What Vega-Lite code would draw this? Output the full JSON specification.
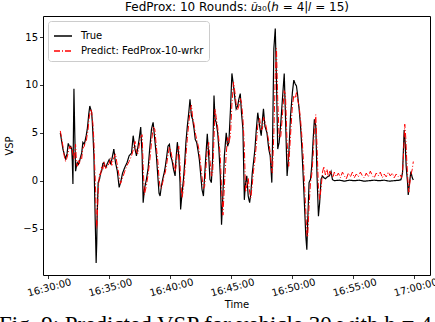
{
  "$schema": "https://vega.github.io/schema/vega-lite/v6.json",
  "width": 387,
  "height": 259,
  "autosize": "none",
  "padding": {"left": 43, "top": 16, "right": 5, "bottom": 47},
  "background": "white",
  "title": {
    "text": "Fig. 9: Predicted VSP for vehicle 30 with h = 4",
    "orient": "bottom",
    "anchor": "start",
    "frame": "group",
    "dx": -44,
    "offset": 4,
    "font": "Liberation Serif",
    "fontSize": 23,
    "fontWeight": "normal",
    "color": "black"
  },
  "config": {
    "view": {"stroke": "black", "strokeWidth": 1},
    "axis": {
      "grid": false,
      "domain": false,
      "labelFont": "DejaVu Sans",
      "labelFontSize": 10,
      "labelColor": "black",
      "tickColor": "black",
      "tickSize": 3.5,
      "tickWidth": 0.8,
      "titleFont": "DejaVu Sans",
      "titleFontSize": 10,
      "titleFontWeight": "normal",
      "titleColor": "black",
      "labelPadding": 2
    }
  },
  "data": {
    "format": {"parse": {"t": "date:'%H:%M:%S'"}},
    "values": [
      {"t":"16:31:02","v":5.0,"s":"T"},{"t":"16:31:08","v":4.2,"s":"T"},{"t":"16:31:15","v":3.3,"s":"T"},{"t":"16:31:21","v":2.8,"s":"T"},{"t":"16:31:28","v":2.3,"s":"T"},{"t":"16:31:35","v":2.8,"s":"T"},{"t":"16:31:41","v":3.9,"s":"T"},{"t":"16:31:48","v":3.5,"s":"T"},{"t":"16:31:53","v":3.6,"s":"T"},{"t":"16:31:58","v":3.3,"s":"T"},{"t":"16:32:01","v":2.0,"s":"T"},{"t":"16:32:04","v":-0.35,"s":"T"},{"t":"16:32:06","v":4.0,"s":"T"},{"t":"16:32:09","v":9.6,"s":"T"},{"t":"16:32:13","v":5.0,"s":"T"},{"t":"16:32:17","v":1.0,"s":"T"},{"t":"16:32:21","v":1.5,"s":"T"},{"t":"16:32:25","v":1.9,"s":"T"},{"t":"16:32:31","v":1.7,"s":"T"},{"t":"16:32:36","v":2.0,"s":"T"},{"t":"16:32:41","v":2.4,"s":"T"},{"t":"16:32:47","v":2.9,"s":"T"},{"t":"16:32:53","v":4.0,"s":"T"},{"t":"16:33:00","v":3.8,"s":"T"},{"t":"16:33:05","v":4.3,"s":"T"},{"t":"16:33:09","v":4.7,"s":"T"},{"t":"16:33:14","v":5.3,"s":"T"},{"t":"16:33:18","v":6.1,"s":"T"},{"t":"16:33:22","v":7.0,"s":"T"},{"t":"16:33:27","v":7.8,"s":"T"},{"t":"16:33:31","v":7.5,"s":"T"},{"t":"16:33:36","v":7.1,"s":"T"},{"t":"16:33:39","v":6.2,"s":"T"},{"t":"16:33:42","v":5.0,"s":"T"},{"t":"16:33:47","v":2.6,"s":"T"},{"t":"16:33:50","v":-0.5,"s":"T"},{"t":"16:33:53","v":-3.7,"s":"T"},{"t":"16:33:56","v":-6.5,"s":"T"},{"t":"16:33:58","v":-8.6,"s":"T"},{"t":"16:34:01","v":-6.5,"s":"T"},{"t":"16:34:03","v":-3.7,"s":"T"},{"t":"16:34:08","v":-0.2,"s":"T"},{"t":"16:34:15","v":0.2,"s":"T"},{"t":"16:34:20","v":0.8,"s":"T"},{"t":"16:34:25","v":1.0,"s":"T"},{"t":"16:34:31","v":1.8,"s":"T"},{"t":"16:34:36","v":1.9,"s":"T"},{"t":"16:34:41","v":1.5,"s":"T"},{"t":"16:34:46","v":1.4,"s":"T"},{"t":"16:34:53","v":1.8,"s":"T"},{"t":"16:35:02","v":2.2,"s":"T"},{"t":"16:35:09","v":1.8,"s":"T"},{"t":"16:35:15","v":2.2,"s":"T"},{"t":"16:35:25","v":3.3,"s":"T"},{"t":"16:35:33","v":1.9,"s":"T"},{"t":"16:35:42","v":1.0,"s":"T"},{"t":"16:35:51","v":-0.7,"s":"T"},{"t":"16:35:58","v":-0.2,"s":"T"},{"t":"16:36:08","v":0.8,"s":"T"},{"t":"16:36:19","v":1.4,"s":"T"},{"t":"16:36:30","v":1.9,"s":"T"},{"t":"16:36:40","v":2.6,"s":"T"},{"t":"16:36:52","v":2.9,"s":"T"},{"t":"16:37:00","v":4.7,"s":"T"},{"t":"16:37:09","v":3.3,"s":"T"},{"t":"16:37:16","v":2.6,"s":"T"},{"t":"16:37:23","v":3.5,"s":"T"},{"t":"16:37:29","v":4.3,"s":"T"},{"t":"16:37:37","v":5.6,"s":"T"},{"t":"16:37:44","v":2.6,"s":"T"},{"t":"16:37:49","v":-2.3,"s":"T"},{"t":"16:37:55","v":-0.9,"s":"T"},{"t":"16:38:05","v":0.15,"s":"T"},{"t":"16:38:13","v":1.2,"s":"T"},{"t":"16:38:21","v":3.3,"s":"T"},{"t":"16:38:30","v":5.4,"s":"T"},{"t":"16:38:38","v":6.1,"s":"T"},{"t":"16:38:46","v":4.3,"s":"T"},{"t":"16:38:54","v":2.6,"s":"T"},{"t":"16:39:02","v":0.15,"s":"T"},{"t":"16:39:07","v":-1.3,"s":"T"},{"t":"16:39:12","v":-1.6,"s":"T"},{"t":"16:39:19","v":-0.5,"s":"T"},{"t":"16:39:25","v":0.15,"s":"T"},{"t":"16:39:32","v":0.8,"s":"T"},{"t":"16:39:38","v":1.5,"s":"T"},{"t":"16:39:45","v":2.6,"s":"T"},{"t":"16:39:51","v":3.6,"s":"T"},{"t":"16:39:58","v":3.8,"s":"T"},{"t":"16:40:04","v":2.6,"s":"T"},{"t":"16:40:11","v":2.1,"s":"T"},{"t":"16:40:18","v":1.2,"s":"T"},{"t":"16:40:26","v":0.5,"s":"T"},{"t":"16:40:30","v":2.2,"s":"T"},{"t":"16:40:37","v":4.0,"s":"T"},{"t":"16:40:44","v":2.6,"s":"T"},{"t":"16:40:50","v":-0.2,"s":"T"},{"t":"16:40:53","v":-3.0,"s":"T"},{"t":"16:41:00","v":-1.3,"s":"T"},{"t":"16:41:07","v":0.15,"s":"T"},{"t":"16:41:13","v":1.9,"s":"T"},{"t":"16:41:19","v":4.0,"s":"T"},{"t":"16:41:26","v":5.7,"s":"T"},{"t":"16:41:33","v":7.1,"s":"T"},{"t":"16:41:39","v":8.5,"s":"T"},{"t":"16:41:46","v":6.8,"s":"T"},{"t":"16:41:52","v":6.4,"s":"T"},{"t":"16:41:59","v":5.4,"s":"T"},{"t":"16:42:05","v":4.3,"s":"T"},{"t":"16:42:12","v":4.0,"s":"T"},{"t":"16:42:18","v":3.2,"s":"T"},{"t":"16:42:25","v":2.2,"s":"T"},{"t":"16:42:31","v":0.8,"s":"T"},{"t":"16:42:38","v":-0.9,"s":"T"},{"t":"16:42:45","v":-1.6,"s":"T"},{"t":"16:42:51","v":0.5,"s":"T"},{"t":"16:42:57","v":2.6,"s":"T"},{"t":"16:43:04","v":4.9,"s":"T"},{"t":"16:43:11","v":2.6,"s":"T"},{"t":"16:43:17","v":0.15,"s":"T"},{"t":"16:43:24","v":-0.2,"s":"T"},{"t":"16:43:30","v":2.2,"s":"T"},{"t":"16:43:37","v":8.9,"s":"T"},{"t":"16:43:42","v":6.4,"s":"T"},{"t":"16:43:48","v":6.1,"s":"T"},{"t":"16:43:55","v":5.0,"s":"T"},{"t":"16:44:01","v":3.3,"s":"T"},{"t":"16:44:08","v":0.5,"s":"T"},{"t":"16:44:14","v":-4.6,"s":"T"},{"t":"16:44:21","v":-1.3,"s":"T"},{"t":"16:44:28","v":2.6,"s":"T"},{"t":"16:44:37","v":5.0,"s":"T"},{"t":"16:44:44","v":3.6,"s":"T"},{"t":"16:44:50","v":4.0,"s":"T"},{"t":"16:44:58","v":7.5,"s":"T"},{"t":"16:45:05","v":11.2,"s":"T"},{"t":"16:45:13","v":9.9,"s":"T"},{"t":"16:45:20","v":8.5,"s":"T"},{"t":"16:45:26","v":7.5,"s":"T"},{"t":"16:45:33","v":7.8,"s":"T"},{"t":"16:45:39","v":8.5,"s":"T"},{"t":"16:45:46","v":9.1,"s":"T"},{"t":"16:45:52","v":7.1,"s":"T"},{"t":"16:45:59","v":5.4,"s":"T"},{"t":"16:46:06","v":-2.0,"s":"T"},{"t":"16:46:12","v":-0.2,"s":"T"},{"t":"16:46:18","v":0.5,"s":"T"},{"t":"16:46:25","v":-1.6,"s":"T"},{"t":"16:46:32","v":-2.3,"s":"T"},{"t":"16:46:38","v":-1.3,"s":"T"},{"t":"16:46:45","v":0.8,"s":"T"},{"t":"16:46:51","v":1.9,"s":"T"},{"t":"16:46:58","v":3.3,"s":"T"},{"t":"16:47:05","v":5.4,"s":"T"},{"t":"16:47:12","v":7.1,"s":"T"},{"t":"16:47:21","v":5.7,"s":"T"},{"t":"16:47:29","v":4.7,"s":"T"},{"t":"16:47:35","v":6.4,"s":"T"},{"t":"16:47:40","v":7.5,"s":"T"},{"t":"16:47:47","v":5.7,"s":"T"},{"t":"16:47:57","v":5.0,"s":"T"},{"t":"16:48:06","v":3.3,"s":"T"},{"t":"16:48:13","v":2.6,"s":"T"},{"t":"16:48:21","v":-0.2,"s":"T"},{"t":"16:48:24","v":3.3,"s":"T"},{"t":"16:48:31","v":13.8,"s":"T"},{"t":"16:48:38","v":15.9,"s":"T"},{"t":"16:48:44","v":10.3,"s":"T"},{"t":"16:48:50","v":3.3,"s":"T"},{"t":"16:48:57","v":4.0,"s":"T"},{"t":"16:49:05","v":6.0,"s":"T"},{"t":"16:49:13","v":8.5,"s":"T"},{"t":"16:49:22","v":11.2,"s":"T"},{"t":"16:49:28","v":6.8,"s":"T"},{"t":"16:49:36","v":0.5,"s":"T"},{"t":"16:49:44","v":2.6,"s":"T"},{"t":"16:49:53","v":6.8,"s":"T"},{"t":"16:50:02","v":9.2,"s":"T"},{"t":"16:50:09","v":10.5,"s":"T"},{"t":"16:50:16","v":10.1,"s":"T"},{"t":"16:50:22","v":9.9,"s":"T"},{"t":"16:50:28","v":8.9,"s":"T"},{"t":"16:50:35","v":7.5,"s":"T"},{"t":"16:50:42","v":5.7,"s":"T"},{"t":"16:50:48","v":3.6,"s":"T"},{"t":"16:50:55","v":0.5,"s":"T"},{"t":"16:51:01","v":-2.3,"s":"T"},{"t":"16:51:08","v":-5.8,"s":"T"},{"t":"16:51:13","v":-7.2,"s":"T"},{"t":"16:51:17","v":-4.4,"s":"T"},{"t":"16:51:24","v":-0.2,"s":"T"},{"t":"16:51:31","v":0.15,"s":"T"},{"t":"16:51:37","v":1.5,"s":"T"},{"t":"16:51:44","v":4.3,"s":"T"},{"t":"16:51:50","v":6.4,"s":"T"},{"t":"16:51:57","v":5.7,"s":"T"},{"t":"16:52:03","v":0.5,"s":"T"},{"t":"16:52:10","v":-3.7,"s":"T"},{"t":"16:52:16","v":-2.3,"s":"T"},{"t":"16:52:23","v":0.15,"s":"T"},{"t":"16:52:30","v":0.5,"s":"T"},{"t":"16:52:37","v":0.3,"s":"T"},{"t":"16:52:44","v":0.2,"s":"T"},{"t":"16:52:54","v":0.4,"s":"T"},{"t":"16:53:04","v":0.5,"s":"T"},{"t":"16:53:12","v":0.95,"s":"T"},{"t":"16:53:19","v":0.1,"s":"T"},{"t":"16:53:28","v":0.0,"s":"T"},{"t":"16:53:53","v":0.05,"s":"T"},{"t":"16:54:17","v":-0.05,"s":"T"},{"t":"16:54:42","v":0.05,"s":"T"},{"t":"16:55:06","v":0.0,"s":"T"},{"t":"16:55:31","v":0.05,"s":"T"},{"t":"16:55:55","v":-0.05,"s":"T"},{"t":"16:56:20","v":0.0,"s":"T"},{"t":"16:56:44","v":0.05,"s":"T"},{"t":"16:57:09","v":0.0,"s":"T"},{"t":"16:57:33","v":0.05,"s":"T"},{"t":"16:57:58","v":-0.05,"s":"T"},{"t":"16:58:22","v":0.0,"s":"T"},{"t":"16:58:47","v":0.05,"s":"T"},{"t":"16:58:55","v":0.1,"s":"T"},{"t":"16:59:03","v":0.8,"s":"T"},{"t":"16:59:08","v":3.5,"s":"T"},{"t":"16:59:11","v":5.3,"s":"T"},{"t":"16:59:16","v":4.0,"s":"T"},{"t":"16:59:21","v":1.5,"s":"T"},{"t":"16:59:28","v":-0.3,"s":"T"},{"t":"16:59:31","v":-1.5,"s":"T"},{"t":"16:59:36","v":-0.5,"s":"T"},{"t":"16:59:44","v":0.95,"s":"T"},{"t":"16:59:51","v":0.3,"s":"T"},{"t":"16:59:56","v":0.07,"s":"T"},
      {"t":"16:31:02","v":5.2,"s":"P"},{"t":"16:31:08","v":4.5,"s":"P"},{"t":"16:31:15","v":3.6,"s":"P"},{"t":"16:31:21","v":2.6,"s":"P"},{"t":"16:31:28","v":2.0,"s":"P"},{"t":"16:31:35","v":2.4,"s":"P"},{"t":"16:31:41","v":2.9,"s":"P"},{"t":"16:31:48","v":3.6,"s":"P"},{"t":"16:31:53","v":3.3,"s":"P"},{"t":"16:31:58","v":3.5,"s":"P"},{"t":"16:32:04","v":2.8,"s":"P"},{"t":"16:32:09","v":2.2,"s":"P"},{"t":"16:32:14","v":3.3,"s":"P"},{"t":"16:32:17","v":3.8,"s":"P"},{"t":"16:32:21","v":2.1,"s":"P"},{"t":"16:32:25","v":1.5,"s":"P"},{"t":"16:32:31","v":2.2,"s":"P"},{"t":"16:32:36","v":1.8,"s":"P"},{"t":"16:32:41","v":2.5,"s":"P"},{"t":"16:32:47","v":2.3,"s":"P"},{"t":"16:32:53","v":3.4,"s":"P"},{"t":"16:33:00","v":3.6,"s":"P"},{"t":"16:33:05","v":4.1,"s":"P"},{"t":"16:33:09","v":4.0,"s":"P"},{"t":"16:33:14","v":4.8,"s":"P"},{"t":"16:33:18","v":5.2,"s":"P"},{"t":"16:33:22","v":6.3,"s":"P"},{"t":"16:33:27","v":7.0,"s":"P"},{"t":"16:33:31","v":7.5,"s":"P"},{"t":"16:33:36","v":7.2,"s":"P"},{"t":"16:33:39","v":6.5,"s":"P"},{"t":"16:33:42","v":6.0,"s":"P"},{"t":"16:33:47","v":4.2,"s":"P"},{"t":"16:33:50","v":2.0,"s":"P"},{"t":"16:33:53","v":0.5,"s":"P"},{"t":"16:33:56","v":-1.5,"s":"P"},{"t":"16:33:58","v":-3.5,"s":"P"},{"t":"16:34:01","v":-5.0,"s":"P"},{"t":"16:34:03","v":-4.2,"s":"P"},{"t":"16:34:08","v":-1.0,"s":"P"},{"t":"16:34:15","v":0.8,"s":"P"},{"t":"16:34:20","v":0.6,"s":"P"},{"t":"16:34:25","v":1.5,"s":"P"},{"t":"16:34:31","v":1.2,"s":"P"},{"t":"16:34:36","v":2.0,"s":"P"},{"t":"16:34:41","v":1.6,"s":"P"},{"t":"16:34:46","v":1.2,"s":"P"},{"t":"16:34:53","v":1.5,"s":"P"},{"t":"16:35:02","v":1.8,"s":"P"},{"t":"16:35:09","v":2.4,"s":"P"},{"t":"16:35:15","v":1.6,"s":"P"},{"t":"16:35:25","v":2.4,"s":"P"},{"t":"16:35:33","v":2.8,"s":"P"},{"t":"16:35:42","v":1.6,"s":"P"},{"t":"16:35:51","v":0.5,"s":"P"},{"t":"16:35:58","v":-0.3,"s":"P"},{"t":"16:36:08","v":0.3,"s":"P"},{"t":"16:36:19","v":1.0,"s":"P"},{"t":"16:36:30","v":1.6,"s":"P"},{"t":"16:36:40","v":2.0,"s":"P"},{"t":"16:36:52","v":2.6,"s":"P"},{"t":"16:37:00","v":3.2,"s":"P"},{"t":"16:37:09","v":4.1,"s":"P"},{"t":"16:37:16","v":3.0,"s":"P"},{"t":"16:37:23","v":2.8,"s":"P"},{"t":"16:37:29","v":3.6,"s":"P"},{"t":"16:37:37","v":4.6,"s":"P"},{"t":"16:37:44","v":4.8,"s":"P"},{"t":"16:37:49","v":1.5,"s":"P"},{"t":"16:37:55","v":-1.5,"s":"P"},{"t":"16:38:05","v":-0.5,"s":"P"},{"t":"16:38:13","v":0.6,"s":"P"},{"t":"16:38:21","v":2.0,"s":"P"},{"t":"16:38:30","v":4.0,"s":"P"},{"t":"16:38:38","v":5.6,"s":"P"},{"t":"16:38:46","v":5.4,"s":"P"},{"t":"16:38:54","v":3.5,"s":"P"},{"t":"16:39:02","v":1.8,"s":"P"},{"t":"16:39:07","v":0.2,"s":"P"},{"t":"16:39:12","v":-0.6,"s":"P"},{"t":"16:39:19","v":-0.8,"s":"P"},{"t":"16:39:25","v":-0.2,"s":"P"},{"t":"16:39:32","v":0.5,"s":"P"},{"t":"16:39:38","v":0.9,"s":"P"},{"t":"16:39:45","v":1.8,"s":"P"},{"t":"16:39:51","v":2.7,"s":"P"},{"t":"16:39:58","v":3.5,"s":"P"},{"t":"16:40:04","v":3.2,"s":"P"},{"t":"16:40:11","v":2.4,"s":"P"},{"t":"16:40:18","v":1.8,"s":"P"},{"t":"16:40:26","v":0.9,"s":"P"},{"t":"16:40:30","v":1.4,"s":"P"},{"t":"16:40:37","v":3.0,"s":"P"},{"t":"16:40:44","v":3.6,"s":"P"},{"t":"16:40:50","v":1.8,"s":"P"},{"t":"16:40:53","v":0.0,"s":"P"},{"t":"16:41:00","v":-1.8,"s":"P"},{"t":"16:41:07","v":-0.8,"s":"P"},{"t":"16:41:13","v":0.8,"s":"P"},{"t":"16:41:19","v":2.6,"s":"P"},{"t":"16:41:26","v":4.4,"s":"P"},{"t":"16:41:33","v":6.0,"s":"P"},{"t":"16:41:39","v":7.2,"s":"P"},{"t":"16:41:46","v":7.9,"s":"P"},{"t":"16:41:52","v":6.6,"s":"P"},{"t":"16:41:59","v":5.9,"s":"P"},{"t":"16:42:05","v":5.0,"s":"P"},{"t":"16:42:12","v":4.3,"s":"P"},{"t":"16:42:18","v":3.8,"s":"P"},{"t":"16:42:25","v":3.0,"s":"P"},{"t":"16:42:31","v":1.8,"s":"P"},{"t":"16:42:38","v":0.4,"s":"P"},{"t":"16:42:45","v":-0.8,"s":"P"},{"t":"16:42:51","v":-0.6,"s":"P"},{"t":"16:42:57","v":1.2,"s":"P"},{"t":"16:43:04","v":3.3,"s":"P"},{"t":"16:43:11","v":4.0,"s":"P"},{"t":"16:43:17","v":2.2,"s":"P"},{"t":"16:43:24","v":0.5,"s":"P"},{"t":"16:43:30","v":0.6,"s":"P"},{"t":"16:43:37","v":4.5,"s":"P"},{"t":"16:43:42","v":7.5,"s":"P"},{"t":"16:43:48","v":6.6,"s":"P"},{"t":"16:43:55","v":5.6,"s":"P"},{"t":"16:44:01","v":4.2,"s":"P"},{"t":"16:44:08","v":2.5,"s":"P"},{"t":"16:44:14","v":-0.8,"s":"P"},{"t":"16:44:21","v":-3.6,"s":"P"},{"t":"16:44:28","v":-0.5,"s":"P"},{"t":"16:44:37","v":2.8,"s":"P"},{"t":"16:44:44","v":4.5,"s":"P"},{"t":"16:44:50","v":3.9,"s":"P"},{"t":"16:44:58","v":4.8,"s":"P"},{"t":"16:45:05","v":8.0,"s":"P"},{"t":"16:45:13","v":10.3,"s":"P"},{"t":"16:45:20","v":9.2,"s":"P"},{"t":"16:45:26","v":8.0,"s":"P"},{"t":"16:45:33","v":7.4,"s":"P"},{"t":"16:45:39","v":7.8,"s":"P"},{"t":"16:45:46","v":8.6,"s":"P"},{"t":"16:45:52","v":8.2,"s":"P"},{"t":"16:45:59","v":6.5,"s":"P"},{"t":"16:46:06","v":3.6,"s":"P"},{"t":"16:46:12","v":-1.2,"s":"P"},{"t":"16:46:18","v":-0.5,"s":"P"},{"t":"16:46:25","v":0.3,"s":"P"},{"t":"16:46:32","v":-1.2,"s":"P"},{"t":"16:46:38","v":-1.8,"s":"P"},{"t":"16:46:45","v":-0.4,"s":"P"},{"t":"16:46:51","v":1.0,"s":"P"},{"t":"16:46:58","v":2.2,"s":"P"},{"t":"16:47:05","v":3.8,"s":"P"},{"t":"16:47:12","v":5.8,"s":"P"},{"t":"16:47:21","v":6.5,"s":"P"},{"t":"16:47:29","v":5.3,"s":"P"},{"t":"16:47:35","v":5.4,"s":"P"},{"t":"16:47:40","v":6.6,"s":"P"},{"t":"16:47:47","v":6.3,"s":"P"},{"t":"16:47:57","v":5.2,"s":"P"},{"t":"16:48:06","v":4.1,"s":"P"},{"t":"16:48:13","v":2.9,"s":"P"},{"t":"16:48:21","v":1.0,"s":"P"},{"t":"16:48:24","v":0.8,"s":"P"},{"t":"16:48:31","v":5.0,"s":"P"},{"t":"16:48:38","v":11.0,"s":"P"},{"t":"16:48:44","v":13.8,"s":"P"},{"t":"16:48:50","v":8.5,"s":"P"},{"t":"16:48:57","v":4.5,"s":"P"},{"t":"16:49:05","v":4.6,"s":"P"},{"t":"16:49:13","v":6.8,"s":"P"},{"t":"16:49:22","v":9.4,"s":"P"},{"t":"16:49:28","v":9.0,"s":"P"},{"t":"16:49:36","v":4.0,"s":"P"},{"t":"16:49:44","v":1.5,"s":"P"},{"t":"16:49:53","v":4.8,"s":"P"},{"t":"16:50:02","v":7.8,"s":"P"},{"t":"16:50:09","v":8.9,"s":"P"},{"t":"16:50:16","v":8.6,"s":"P"},{"t":"16:50:22","v":9.2,"s":"P"},{"t":"16:50:28","v":8.4,"s":"P"},{"t":"16:50:35","v":7.8,"s":"P"},{"t":"16:50:42","v":6.4,"s":"P"},{"t":"16:50:48","v":4.8,"s":"P"},{"t":"16:50:55","v":2.6,"s":"P"},{"t":"16:51:01","v":-0.2,"s":"P"},{"t":"16:51:08","v":-3.2,"s":"P"},{"t":"16:51:13","v":-5.6,"s":"P"},{"t":"16:51:17","v":-5.9,"s":"P"},{"t":"16:51:24","v":-2.6,"s":"P"},{"t":"16:51:31","v":-0.2,"s":"P"},{"t":"16:51:37","v":0.6,"s":"P"},{"t":"16:51:44","v":2.6,"s":"P"},{"t":"16:51:50","v":5.2,"s":"P"},{"t":"16:51:57","v":6.9,"s":"P"},{"t":"16:52:03","v":3.6,"s":"P"},{"t":"16:52:10","v":-0.8,"s":"P"},{"t":"16:52:16","v":-2.0,"s":"P"},{"t":"16:52:23","v":-0.8,"s":"P"},{"t":"16:52:30","v":0.9,"s":"P"},{"t":"16:52:37","v":1.5,"s":"P"},{"t":"16:52:44","v":0.6,"s":"P"},{"t":"16:52:52","v":1.2,"s":"P"},{"t":"16:52:59","v":0.4,"s":"P"},{"t":"16:53:06","v":1.0,"s":"P"},{"t":"16:53:14","v":0.7,"s":"P"},{"t":"16:53:21","v":0.3,"s":"P"},{"t":"16:53:28","v":0.9,"s":"P"},{"t":"16:53:38","v":0.4,"s":"P"},{"t":"16:53:48","v":0.8,"s":"P"},{"t":"16:53:58","v":0.3,"s":"P"},{"t":"16:54:08","v":0.9,"s":"P"},{"t":"16:54:17","v":0.5,"s":"P"},{"t":"16:54:27","v":0.2,"s":"P"},{"t":"16:54:37","v":0.8,"s":"P"},{"t":"16:54:47","v":0.4,"s":"P"},{"t":"16:54:57","v":0.9,"s":"P"},{"t":"16:55:06","v":0.3,"s":"P"},{"t":"16:55:16","v":0.7,"s":"P"},{"t":"16:55:26","v":0.4,"s":"P"},{"t":"16:55:36","v":0.9,"s":"P"},{"t":"16:55:46","v":0.5,"s":"P"},{"t":"16:55:55","v":0.3,"s":"P"},{"t":"16:56:05","v":0.8,"s":"P"},{"t":"16:56:15","v":0.4,"s":"P"},{"t":"16:56:25","v":1.0,"s":"P"},{"t":"16:56:35","v":0.5,"s":"P"},{"t":"16:56:44","v":0.3,"s":"P"},{"t":"16:56:54","v":0.8,"s":"P"},{"t":"16:57:04","v":0.5,"s":"P"},{"t":"16:57:14","v":0.9,"s":"P"},{"t":"16:57:24","v":0.3,"s":"P"},{"t":"16:57:33","v":0.7,"s":"P"},{"t":"16:57:43","v":0.4,"s":"P"},{"t":"16:57:53","v":0.9,"s":"P"},{"t":"16:58:03","v":0.5,"s":"P"},{"t":"16:58:13","v":0.8,"s":"P"},{"t":"16:58:22","v":0.3,"s":"P"},{"t":"16:58:32","v":0.7,"s":"P"},{"t":"16:58:42","v":0.4,"s":"P"},{"t":"16:58:52","v":0.6,"s":"P"},{"t":"16:58:59","v":0.3,"s":"P"},{"t":"16:59:04","v":1.2,"s":"P"},{"t":"16:59:09","v":3.2,"s":"P"},{"t":"16:59:14","v":5.9,"s":"P"},{"t":"16:59:19","v":4.5,"s":"P"},{"t":"16:59:24","v":2.0,"s":"P"},{"t":"16:59:29","v":0.2,"s":"P"},{"t":"16:59:34","v":-1.2,"s":"P"},{"t":"16:59:38","v":-0.4,"s":"P"},{"t":"16:59:44","v":0.6,"s":"P"},{"t":"16:59:51","v":1.2,"s":"P"},{"t":"16:59:56","v":2.0,"s":"P"}
    ]
  },
  "resolve": {"axis": {"x": "independent"}},
  "layer": [
    {
      "transform": [{"filter": "datum.s === 'T'"}],
      "mark": {"type": "line", "strokeWidth": 1.2, "strokeCap": "butt"},
      "encoding": {
        "x": {
          "field": "t", "type": "temporal",
          "scale": {"domain": [
            {"year": 1900, "month": 1, "date": 1, "hours": 16, "minutes": 29, "seconds": 37},
            {"year": 1900, "month": 1, "date": 1, "hours": 17, "minutes": 1, "seconds": 18}
          ], "nice": false},
          "axis": {
            "orient": "bottom",
            "title": "Time",
            "format": "%H:%M:%S",
            "labelAngle": -15,
            "labelAlign": "center",
            "labelBaseline": "top",
            "labelPadding": 4,
            "titlePadding": 2,
            "values": [
              {"year": 1900, "month": 1, "date": 1, "hours": 16, "minutes": 30},
              {"year": 1900, "month": 1, "date": 1, "hours": 16, "minutes": 35},
              {"year": 1900, "month": 1, "date": 1, "hours": 16, "minutes": 40},
              {"year": 1900, "month": 1, "date": 1, "hours": 16, "minutes": 45},
              {"year": 1900, "month": 1, "date": 1, "hours": 16, "minutes": 50},
              {"year": 1900, "month": 1, "date": 1, "hours": 16, "minutes": 55},
              {"year": 1900, "month": 1, "date": 1, "hours": 17, "minutes": 0}
            ]
          }
        },
        "y": {
          "field": "v", "type": "quantitative",
          "scale": {"domain": [-9.85, 17.2], "nice": false, "zero": false},
          "axis": {
            "title": "VSP",
            "values": [-5, 0, 5, 10, 15],
            "labelExpr": "replace(datum.label, '-', '−')",
            "titlePadding": 8
          }
        },
        "color": {
          "field": "s", "type": "nominal",
          "scale": {"domain": ["T", "P"], "range": ["#000000", "#ff0000"]},
          "legend": {
            "title": null,
            "orient": "top-left",
            "offset": 5,
            "padding": 5,
            "strokeColor": "#cccccc",
            "fillColor": "white",
            "cornerRadius": 3,
            "symbolType": "stroke",
            "symbolSize": 324,
            "symbolStrokeWidth": 1.3,
            "labelFont": "DejaVu Sans",
            "labelFontSize": 10,
            "labelColor": "black",
            "labelOffset": 8,
            "rowPadding": 0,
            "labelExpr": "datum.value === 'T' ? 'True' : 'Predict: FedProx-10-wrkr'"
          }
        },
        "strokeDash": {
          "field": "s", "type": "nominal",
          "scale": {"domain": ["T", "P"], "range": [[1, 0], [6, 2, 1, 2]]},
          "legend": {
            "title": null,
            "orient": "top-left",
            "labelExpr": "datum.value === 'T' ? 'True' : 'Predict: FedProx-10-wrkr'"
          }
        }
      }
    },
    {
      "transform": [{"filter": "datum.s === 'P'"}],
      "mark": {"type": "line", "strokeWidth": 1, "strokeCap": "butt"},
      "encoding": {
        "x": {
          "field": "t", "type": "temporal",
          "axis": {
            "orient": "top",
            "title": "FedProx: 10 Rounds: 𝑢̂₃₀(ℎ = 4|𝑙 = 15)",
            "labels": false,
            "ticks": false,
            "domain": false,
            "titleFontSize": 12,
            "titlePadding": 3
          }
        },
        "y": {"field": "v", "type": "quantitative"},
        "color": {"field": "s", "type": "nominal"},
        "strokeDash": {"field": "s", "type": "nominal"}
      }
    }
  ]
}
